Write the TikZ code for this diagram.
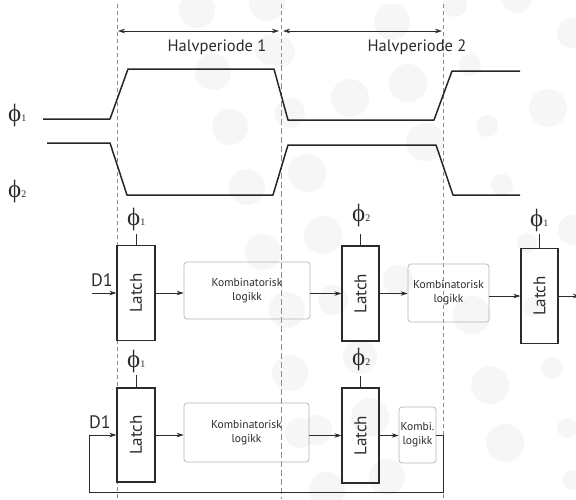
\documentclass[tikz,border=0pt]{standalone}
\usepackage{fontspec}
\setmainfont{PT Sans}
\newfontfamily\phifont{Liberation Serif}
\usetikzlibrary{arrows.meta}

\definecolor{ink}{HTML}{2B2B2B}
\definecolor{dotfill}{HTML}{F6F6F6}
\definecolor{guidegray}{HTML}{8C8C8C}
\definecolor{kboxgray}{HTML}{B4B4B4}

% clock phase symbol with its index
\newcommand\phase[1]{{\phifont\fontsize{25}{25}\selectfont ϕ\fontsize{10}{10}\selectfont #1}}

\tikzset{
  latchbox/.style={draw=ink, line width=1.2pt, minimum width=37pt, minimum height=95pt,
    inner sep=0pt, font=\fontsize{17}{17}\selectfont, text=ink},
  kombibox/.style={draw=kboxgray, line width=0.7pt, rounded corners=3pt, inner sep=1pt,
    align=center, font=\fontsize{11.5}{14}\selectfont, text=ink},
  sig/.style={-{Stealth[length=7pt,width=4.5pt]}, draw=ink, line width=0.8pt},
  wire/.style={draw=ink, line width=0.8pt},
  wave/.style={draw=black!85, line width=1.5pt, line join=round},
  guide/.style={draw=guidegray, line width=0.6pt, dash pattern=on 4pt off 3pt},
  guidemid/.style={draw=guidegray, line width=0.9pt, dash pattern=on 6pt off 3pt},
  span/.style={{Stealth[length=7pt,width=4.5pt]}-{Stealth[length=7pt,width=4.5pt]},
    draw=ink, line width=0.6pt},
  phaselabel/.style={text=ink, inner sep=0pt, anchor=base west},
  plainlabel/.style={font=\fontsize{16.5}{16.5}\selectfont, text=ink, inner sep=0pt},
  dotdisc/.style={fill=dotfill, draw=none},
}

\begin{document}
\begin{tikzpicture}[x=1pt,y=-1pt]
\useasboundingbox (0,0) rectangle (576,499);

% faint background discs
\foreach \cx/\cy/\r in {
  197/10/18, 267/3/18, 213/72/18, 270/50/15, 230/127/18, 247/187/18, 290/113/15,
  392/22/18, 455/5/12, 517/-2/15, 408/83/19, 350/98/19, 280/52/15, 425/142/19,
  470/65/11, 487/126/11, 548/108/19, 307/173/19, 502/185/11, 572/33/15,
  323/235/19, 333/300/15, 398/280/15, 287/310/18, 472/315/19, 527/243/10,
  573/230/15, 533/307/10, 263/252/18, 290/373/18, 300/433/15, 360/357/17,
  317/430/15, 370/417/19, 387/477/18, 327/490/18, 490/385/19, 552/368/11,
  505/443/19, 567/428/10, 573/480/10}
  \fill[dotdisc] (\cx,\cy) circle (\r);

% phase boundaries
\coordinate (g1t) at (117,4);   \coordinate (g1b) at (117,499);
\coordinate (g2t) at (281,4);   \coordinate (g2m) at (281,65);  \coordinate (g2b) at (281,499);
\coordinate (g3t) at (443,4);   \coordinate (g3b) at (443,499);
\draw[guide] (g1t) -- (g1b);
\draw[guide] (g2t) -- (g2m);
\draw[guidemid] (g2m) -- (g2b);
\draw[guide] (g3t) -- (g3b);

% half-period spans
\coordinate (s1a) at (118,31); \coordinate (s1b) at (279,31);
\coordinate (s2a) at (283,31); \coordinate (s2b) at (442,31);
\draw[span] (s1a) -- (s1b);
\draw[span] (s2a) -- (s2b);
\node[plainlabel] (hp1) at (217,47) {Halvperiode 1};
\node[plainlabel] (hp2) at (417,47) {Halvperiode 2};

% clock waveforms
\node[phaselabel] (w1) at (8,121) {\phase{1}};
\node[phaselabel] (w2) at (8,197) {\phase{2}};
\draw[wave] (43,119) -- (110,119) -- (128,69) -- (274,69) -- (288,120)
  -- (434,120) -- (452,71) -- (520,71);
\draw[wave] (47,143) -- (110,143) -- (127,195) -- (273,195) -- (288,145)
  -- (436,145) -- (453,195) -- (520,195);

% upper pipeline
\node[latchbox, minimum width=38pt] (l1) at (136,293) {\rotatebox{90}{Latch}};
\node[kombibox, minimum width=126pt, minimum height=57pt] (k1) at (247,290.5)
  {Kombinatorisk\\logikk};
\node[latchbox] (l2) at (360.5,293.5) {\rotatebox{90}{Latch}};
\node[kombibox, minimum width=81pt, minimum height=58pt] (k2) at (448.5,293)
  {Kombinatorisk\\logikk};
\node[latchbox] (l3) at (539.5,296) {\rotatebox{90}{Latch}};

\coordinate (in1) at (92,293);
\coordinate (out1) at (580,296);
\node[plainlabel, font=\fontsize{18}{18}\selectfont] (d1a) at (102,280) {D1};
\draw[sig] (in1) -- (l1.west);
\draw[sig] (l1.east) -- (l1.east -| k1.west);
\draw[sig] (l2.west -| k1.east) -- (l2.west);
\draw[sig] (l2.east) -- (l2.east -| k2.west);
\draw[sig] (l3.west -| k2.east) -- (l3.west);
\draw[sig] (l3.east) -- (out1);

% clock inputs, upper row
\coordinate (c1) at (136,234); \coordinate (c2) at (360.5,234); \coordinate (c3) at (539.5,234);
\draw[wire] (l1.north) -- (c1);
\draw[wire] (l2.north) -- (c2);
\draw[wire] (l3.north) -- (c3);
\node[phaselabel] (p1) at (127,225) {\phase{1}};
\node[phaselabel] (p2) at (352,221) {\phase{2}};
\node[phaselabel] (p3) at (530,226) {\phase{1}};

% lower pipeline with feedback
\node[latchbox, minimum width=38pt, minimum height=94pt] (l4) at (136,435) {\rotatebox{90}{Latch}};
\node[kombibox, minimum width=125pt, minimum height=59pt] (k3) at (246.5,432.5)
  {Kombinatorisk\\logikk};
\node[latchbox] (l5) at (360.5,435.5) {\rotatebox{90}{Latch}};
\node[kombibox, minimum width=37pt, minimum height=56pt, inner sep=0pt] (k4) at (417.5,435)
  {Kombi.\\logikk};

\node[plainlabel, font=\fontsize{18}{18}\selectfont] (d1b) at (100,422) {D1};
\draw[sig] (l4.east) -- (l4.east -| k3.west);
\draw[sig] (l5.west -| k3.east) -- (l5.west);
\draw[sig] (l5.east) -- (l5.east -| k4.west);

\coordinate (fb1) at (443,435);
\coordinate (fb2) at (443,492);
\coordinate (fb3) at (89,492);
\coordinate (fb4) at (89,435);
\draw[wire] (k4.east) -- (fb1) -- (fb2) -- (fb3) -- (fb4);
\draw[sig] (fb4) -- (l4.west);

% clock inputs, lower row
\coordinate (c4) at (136,375); \coordinate (c5) at (360.5,376);
\draw[wire] (l4.north) -- (c4);
\draw[wire] (l5.north) -- (c5);
\node[phaselabel] (p4) at (127,367) {\phase{1}};
\node[phaselabel] (p5) at (352,365) {\phase{2}};
\end{tikzpicture}
\end{document}
